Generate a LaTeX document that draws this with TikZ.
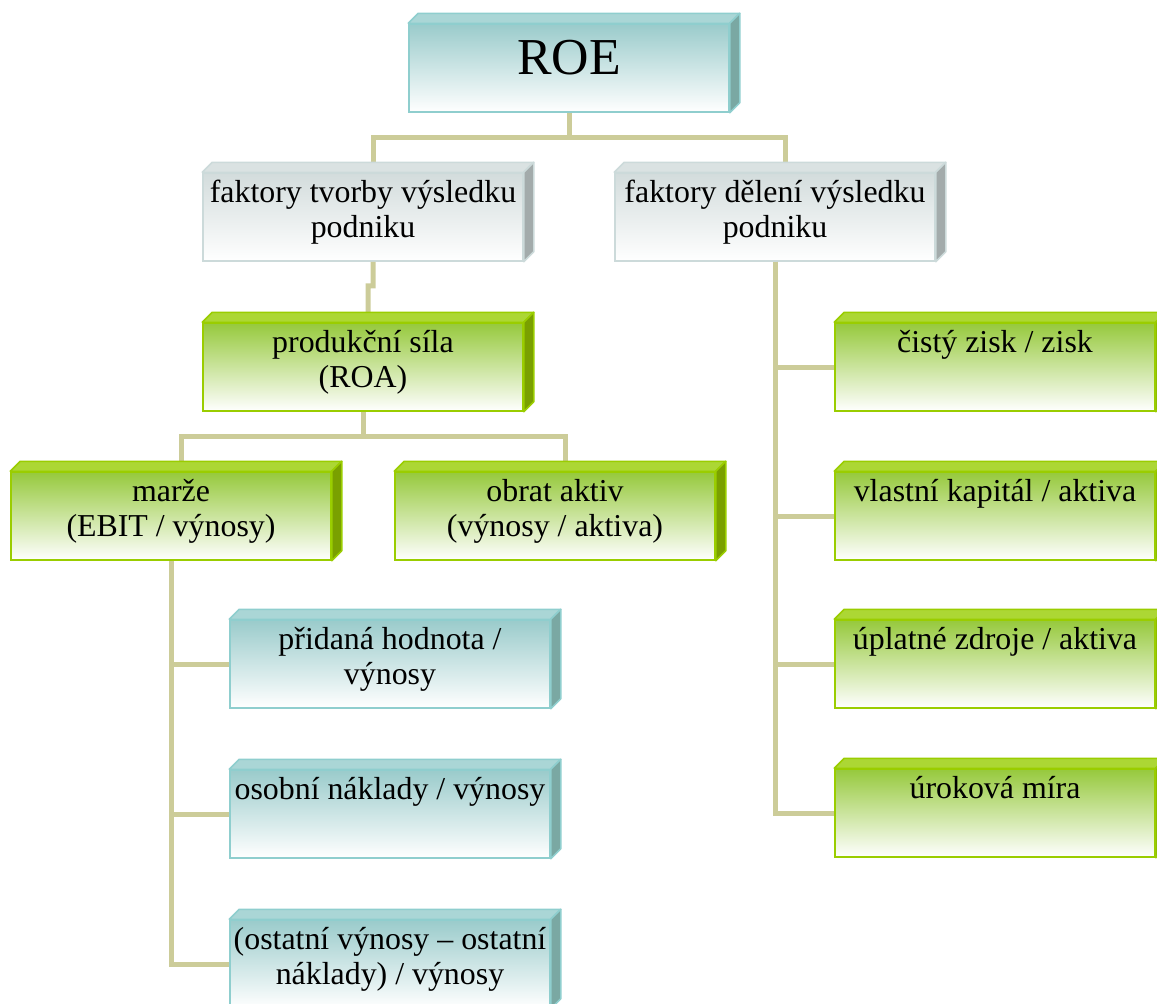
\documentclass[tikz,border=0pt]{standalone}
\usepackage{fontspec}
\setmainfont{Liberation Serif}
\usetikzlibrary{calc}

\definecolor{linkc}{RGB}{204,204,153}
\definecolor{tealf}{RGB}{154,203,203}
\definecolor{tealt}{RGB}{170,214,214}
\definecolor{tealb}{RGB}{143,206,206}
\definecolor{teals}{RGB}{122,168,163}
\definecolor{grayf}{RGB}{211,220,220}
\definecolor{grayt}{RGB}{218,226,226}
\definecolor{grayb}{RGB}{204,218,218}
\definecolor{grays}{RGB}{163,171,171}
\definecolor{greenf}{RGB}{150,201,60}
\definecolor{greent}{RGB}{172,215,52}
\definecolor{greenb}{RGB}{154,205,0}
\definecolor{greens}{RGB}{122,160,0}

\newcommand{\boxtext}[2][5bp]{\parbox[c][88bp][t]{320bp}{\centering\vspace{#1}\strut#2}}

\begin{document}
\begin{tikzpicture}[
  x=1bp, y=-1bp,
  box/.style={rectangle, inner sep=0pt, line width=1.5bp, font=\fontsize{32}{35}\selectfont},
  tealbox/.style={box, draw=tealb, top color=tealf, bottom color=white},
  graybox/.style={box, draw=grayb, top color=grayf, bottom color=white},
  greenbox/.style={box, draw=greenb, top color=greenf, bottom color=white},
  link/.style={draw=linkc, line width=5bp}
]
\useasboundingbox (0,0) rectangle (1157,1004);

\node[tealbox, font=\fontsize{52}{60}\selectfont] (roe) at (569,68) {\boxtext[9bp]{ROE}};
\node[graybox] (tvorby) at (363,217) {\boxtext{faktory tvorby výsledku\\podniku}};
\node[graybox] (deleni) at (775,217) {\boxtext{faktory dělení výsledku\\podniku}};
\node[greenbox] (roa) at (363,367) {\boxtext{produkční síla\\(ROA)}};
\node[greenbox] (marze) at (171,516) {\boxtext{marže\\(EBIT / výnosy)}};
\node[greenbox] (obrat) at (555,516) {\boxtext{obrat aktiv\\(výnosy / aktiva)}};
\node[tealbox] (pridana) at (390,664) {\boxtext{přidaná hodnota /\\výnosy}};
\node[tealbox] (osobni) at (390,814) {\boxtext{osobní náklady / výnosy}};
\node[tealbox] (ostatni) at (390,964) {\boxtext{(ostatní výnosy – ostatní\\náklady) / výnosy}};
\node[greenbox] (cisty) at (995,367) {\boxtext{čistý zisk / zisk}};
\node[greenbox] (vlastni) at (995,516) {\boxtext{vlastní kapitál / aktiva}};
\node[greenbox] (uplatne) at (995,664) {\boxtext{úplatné zdroje / aktiva}};
\node[greenbox] (urok) at (995,813) {\boxtext{úroková míra}};

% connectors
\draw[link] (roe.south) -- ++(0,25) coordinate (j1);
\draw[link] (j1) -| ([xshift=10bp]tvorby.north);
\draw[link] (j1) -| ([xshift=10bp]deleni.north);
\draw[link] ([xshift=10bp]tvorby.south) -- ++(0,24) -- ++(-5,0) -- ([xshift=5bp]roa.north);
\draw[link] (roa.south) -- ++(0,25) coordinate (j2);
\draw[link] (j2) -| ([xshift=10bp]marze.north);
\draw[link] (j2) -| ([xshift=10bp]obrat.north);
\draw[link] (marze.south) |- (pridana.west);
\draw[link] (marze.south) |- (osobni.west);
\draw[link] (marze.south) |- (ostatni.west);
\draw[link] (deleni.south) |- (cisty.west);
\draw[link] (deleni.south) |- (vlastni.west);
\draw[link] (deleni.south) |- (uplatne.west);
\draw[link] (deleni.south) |- (urok.west);

% top and side faces
\foreach \n/\t/\s/\b in {roe/tealt/teals/tealb, pridana/tealt/teals/tealb,
    osobni/tealt/teals/tealb, ostatni/tealt/teals/tealb,
    tvorby/grayt/grays/grayb, deleni/grayt/grays/grayb,
    roa/greent/greens/greenb, marze/greent/greens/greenb,
    obrat/greent/greens/greenb, cisty/greent/greens/greenb,
    vlastni/greent/greens/greenb, uplatne/greent/greens/greenb,
    urok/greent/greens/greenb} {
  \filldraw[fill=\t, draw=\b, line width=1.5bp, line join=round]
    (\n.north west) -- ++(10,-10) -- ([shift={(10,-10)}]\n.north east) -- (\n.north east) -- cycle;
  \filldraw[fill=\s, draw=\b, line width=1.5bp, line join=round]
    (\n.north east) -- ++(10,-10) -- ([shift={(10,-10)}]\n.south east) -- (\n.south east) -- cycle;
}
\end{tikzpicture}
\end{document}
